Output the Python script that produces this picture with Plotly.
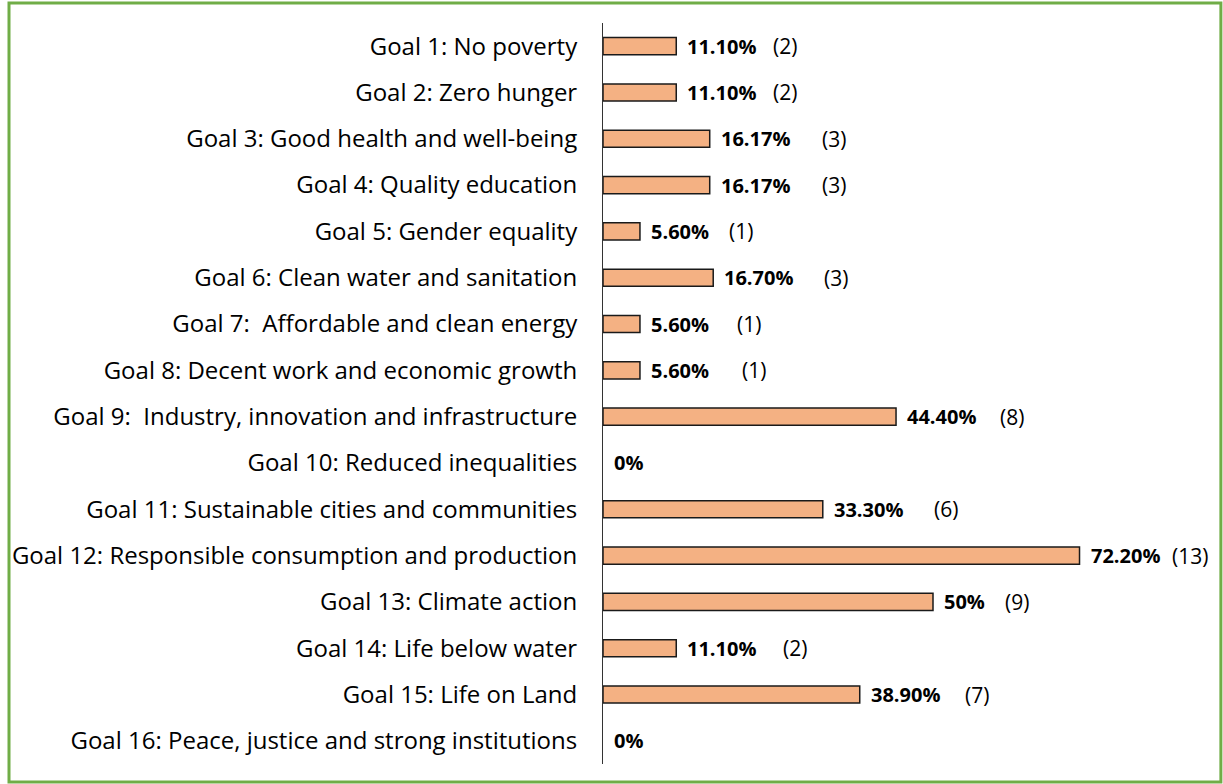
import plotly.graph_objects as go

goals = [
    "Goal 1: No poverty",
    "Goal 2: Zero hunger",
    "Goal 3: Good health and well-being",
    "Goal 4: Quality education",
    "Goal 5: Gender equality",
    "Goal 6: Clean water and sanitation",
    "Goal 7:\u00a0 Affordable and clean energy",
    "Goal 8: Decent work and economic growth",
    "Goal 9:\u00a0 Industry, innovation and infrastructure",
    "Goal 10: Reduced inequalities",
    "Goal 11: Sustainable cities and communities",
    "Goal 12: Responsible consumption and production",
    "Goal 13: Climate action",
    "Goal 14: Life below water",
    "Goal 15: Life on Land",
    "Goal 16: Peace, justice and strong institutions",
]
percent_values = [11.10, 11.10, 16.17, 16.17, 5.60, 16.70, 5.60, 5.60, 44.40, 0, 33.30, 72.20, 50, 11.10, 38.90, 0]
percent_labels = ["11.10%", "11.10%", "16.17%", "16.17%", "5.60%", "16.70%", "5.60%", "5.60%",
                  "44.40%", "0%", "33.30%", "72.20%", "50%", "11.10%", "38.90%", "0%"]
counts = [2, 2, 3, 3, 1, 3, 1, 1, 8, None, 6, 13, 9, 2, 7, None]

# style: pixel offset of the count label from the bar end
count_offsets = [95, 95, 110, 110, 87, 109, 95, 100, 102, 0, 109, 90, 70, 105, 103, 0]

W, H = 1223, 784
ML, MR, MT, MB = 600, 26, 23, 20
PW, PH = W - ML - MR, H - MT - MB

FONT = "Open Sans"

fig = go.Figure(go.Bar(
    y=goals, x=percent_values, orientation="h",
    marker=dict(color="#F4B183",
                line=dict(color="#1a1a1a", width=[1.5 if v > 0 else 0 for v in percent_values])),
    width=0.37,
))

for g, v, lab, c, off in zip(goals, percent_values, percent_labels, counts, count_offsets):
    fig.add_annotation(x=v, y=g, text=f"<b>{lab}</b>", showarrow=False,
                       xanchor="left", xshift=9, font=dict(family=FONT, size=20, color="black"))
    if c is not None:
        fig.add_annotation(x=v, y=g, text=f"({c})", showarrow=False,
                           xanchor="left", xshift=off, font=dict(family=FONT, size=21, color="black"))

# green frame around the whole picture
fig.add_shape(type="rect", xref="paper", yref="paper",
              x0=(3 - ML) / PW, x1=(1221 - ML) / PW,
              y0=(2 - MB) / PH, y1=(H - 3 - MB) / PH,
              line=dict(color="#70AD47", width=3), layer="above")

fig.update_layout(
    width=W, height=H,
    margin=dict(l=ML, r=MR, t=MT, b=MB),
    paper_bgcolor="white", plot_bgcolor="white",
    showlegend=False,
    font=dict(family=FONT, color="black"),
    xaxis=dict(range=[0, 90], visible=False),
    yaxis=dict(autorange="reversed", showline=True, linecolor="#333333", linewidth=1,
               ticks="", tickfont=dict(family=FONT, size=24, color="black"),
               ticklabelstandoff=20, showgrid=False),
)

fig.write_html("out.html")
